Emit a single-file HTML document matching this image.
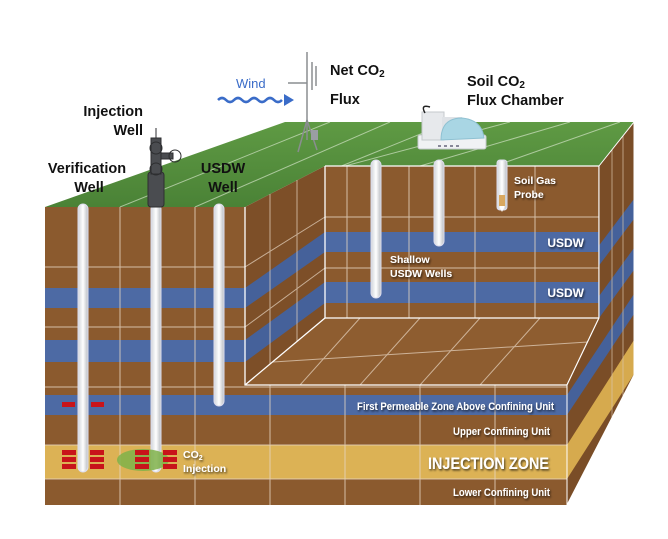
<!DOCTYPE html>
<html><head><meta charset="utf-8"><style>
html,body{margin:0;padding:0;background:#fff;}
svg{display:block;}
.lab{font-family:"Liberation Sans",sans-serif;font-weight:bold;fill:#111;}
.wl{font-family:"Liberation Sans",sans-serif;font-weight:bold;fill:#fff;}
</style></head><body>
<svg width="668" height="539" viewBox="0 0 668 539" xmlns="http://www.w3.org/2000/svg">
<defs>
<linearGradient id="grass" x1="0" y1="0" x2="0" y2="1">
<stop offset="0" stop-color="#5f9a44"/><stop offset="1" stop-color="#4a8236"/></linearGradient>
<filter id="sh" x="-10%" y="-30%" width="130%" height="180%"><feDropShadow dx="1" dy="1.5" stdDeviation="1" flood-color="#000" flood-opacity="0.7"/></filter>
<clipPath id="side"><polygon points="599,166 634,122 634,375 567,505 567,385 599,318"/></clipPath>
<linearGradient id="tube" x1="0" x2="1"><stop offset="0" stop-color="#cfd3d8"/><stop offset="0.5" stop-color="#fff"/><stop offset="1" stop-color="#b8bcc2"/></linearGradient>
</defs>

<polygon points="45,207 285,122 634,122 599,166 325,166 245,207" fill="url(#grass)"/>
<g stroke="#e6f0dc" stroke-width="1" opacity="0.6">
<line x1="120" y1="207" x2="330" y2="122"/><line x1="195" y1="207" x2="390" y2="122"/>
<line x1="270" y1="195" x2="450" y2="122"/><line x1="345" y1="166" x2="510" y2="122"/>
<line x1="420" y1="166" x2="570" y2="122"/><line x1="495" y1="166" x2="620" y2="122"/>
</g>

<rect x="45" y="207" width="522" height="298" fill="#8b5a2e"/>
<rect x="45" y="288" width="200" height="20" fill="#4d6aa4"/>
<rect x="45" y="340" width="200" height="22" fill="#4d6aa4"/>
<rect x="45" y="395" width="522" height="20" fill="#4d6aa4"/>
<rect x="45" y="445" width="522" height="34" fill="#dcb255"/>
<g stroke="#e8d7c4" stroke-width="1" opacity="0.8">
<line x1="120" y1="207" x2="120" y2="505"/><line x1="195" y1="207" x2="195" y2="505"/>
<line x1="270" y1="385" x2="270" y2="505"/><line x1="345" y1="385" x2="345" y2="505"/>
<line x1="420" y1="385" x2="420" y2="505"/><line x1="495" y1="385" x2="495" y2="505"/>
<line x1="45" y1="267" x2="245" y2="267"/><line x1="45" y1="327" x2="245" y2="327"/>
<line x1="45" y1="387" x2="567" y2="387"/><line x1="45" y1="445" x2="567" y2="445"/>
<line x1="45" y1="479" x2="567" y2="479"/>
</g>

<polygon points="245,207 325,166 325,318 245,385" fill="#7d4f28"/>
<polygon points="245,288 325,232 325,252 245,308" fill="#45619a"/>
<polygon points="245,340 325,282 325,303 245,362" fill="#45619a"/>
<g stroke="#e8d7c4" stroke-width="1" opacity="0.7" fill="none">
<line x1="245" y1="267" x2="325" y2="217"/><line x1="245" y1="327" x2="325" y2="268"/>
<line x1="270" y1="194" x2="270" y2="364"/><line x1="297" y1="180" x2="297" y2="341"/>
</g>
<rect x="325" y="166" width="274" height="152" fill="#8b5a2e"/>
<rect x="325" y="232" width="274" height="20" fill="#4d6aa4"/>
<rect x="325" y="282" width="274" height="21" fill="#4d6aa4"/>
<g stroke="#e8d7c4" stroke-width="1" opacity="0.8">
<line x1="347" y1="166" x2="347" y2="318"/><line x1="409" y1="166" x2="409" y2="318"/>
<line x1="475" y1="166" x2="475" y2="318"/><line x1="535" y1="166" x2="535" y2="318"/>
<line x1="325" y1="217" x2="599" y2="217"/><line x1="325" y1="268" x2="599" y2="268"/>
</g>
<polygon points="245,385 325,318 599,318 567,385" fill="#8e5d30"/>
<g stroke="#e8d7c4" stroke-width="1" opacity="0.7">
<line x1="300" y1="385" x2="360" y2="318"/><line x1="360" y1="385" x2="420" y2="318"/>
<line x1="420" y1="385" x2="480" y2="318"/><line x1="480" y1="385" x2="540" y2="318"/>
<line x1="273" y1="362" x2="588" y2="342"/>
</g>
<g stroke="#fff" stroke-width="1.3" fill="none">
<polyline points="245,207 245,385 567,385"/>
<polyline points="325,166 325,318 599,318 599,166 325,166"/>
<line x1="245" y1="385" x2="325" y2="318"/><line x1="567" y1="385" x2="599" y2="318"/>
</g>

<g clip-path="url(#side)">
<rect x="560" y="100" width="80" height="420" fill="#7a4d27"/>
<polygon points="567,288 634,199 634,219 567,308" fill="#45619a"/>
<polygon points="567,340 634,248 634,270 567,362" fill="#45619a"/>
<polygon points="567,395 634,294 634,314 567,415" fill="#45619a"/>
<polygon points="567,445 634,340 634,374 567,479" fill="#d6aa4e"/>
<g stroke="#d9c3a8" stroke-width="1" opacity="0.7">
<line x1="612" y1="100" x2="612" y2="520"/><line x1="623" y1="100" x2="623" y2="520"/>
</g>
</g>
<polygon points="599,166 634,122 634,375 567,505 567,385 599,318" fill="none" stroke="#fff" stroke-width="1"/>

<g fill="url(#tube)" stroke="#dde" stroke-width="1">
<rect x="78" y="204" width="10" height="268" rx="5"/>
<rect x="151" y="204" width="10" height="268" rx="5"/>
<rect x="214" y="204" width="10" height="202" rx="5"/>
<rect x="371" y="160" width="10" height="138" rx="5"/>
<rect x="434" y="160" width="10" height="86" rx="5"/>
<rect x="497" y="160" width="10" height="50" rx="3"/>
</g>
<rect x="499" y="195" width="6" height="12" fill="#d9a860"/>
<polygon points="499,206 505,206 502,212" fill="#fff"/>

<ellipse cx="143" cy="460" rx="26" ry="11" fill="#7fb24a" opacity="0.85"/>
<g fill="#c8141a">
<rect x="62" y="402" width="13" height="5"/><rect x="91" y="402" width="13" height="5"/>
<rect x="62" y="450" width="14" height="5"/><rect x="90" y="450" width="14" height="5"/>
<rect x="62" y="457" width="14" height="5"/><rect x="90" y="457" width="14" height="5"/>
<rect x="62" y="464" width="14" height="5"/><rect x="90" y="464" width="14" height="5"/>
<rect x="135" y="450" width="14" height="5"/><rect x="163" y="450" width="14" height="5"/>
<rect x="135" y="457" width="14" height="5"/><rect x="163" y="457" width="14" height="5"/>
<rect x="135" y="464" width="14" height="5"/><rect x="163" y="464" width="14" height="5"/>
</g>

<g fill="#4a4c50" stroke="#2d2e30" stroke-width="1">
<rect x="148" y="172" width="16" height="35" rx="3"/>
<rect x="151" y="138" width="10" height="36"/>
<rect x="161" y="153" width="12" height="6"/>
<circle cx="156" cy="148" r="6" fill="none"/><circle cx="156" cy="169" r="6" fill="none"/>
<circle cx="175" cy="156" r="6" fill="none"/>
<line x1="156" y1="128" x2="156" y2="138"/>
</g>

<g stroke="#8a8d90" stroke-width="1.5" fill="none">
<line x1="307" y1="52" x2="307" y2="140"/>
<line x1="307" y1="120" x2="298" y2="152"/><line x1="307" y1="120" x2="317" y2="150"/>
<line x1="288" y1="83" x2="307" y2="83"/>
<line x1="312" y1="62" x2="312" y2="90"/><line x1="316" y1="66" x2="316" y2="86"/>
</g>
<rect x="311" y="130" width="7" height="10" fill="#9a9ea2"/>

<rect x="418" y="135" width="68" height="14" rx="2" fill="#f0f2f4" stroke="#c5c9cd"/>
<rect x="422" y="112" width="22" height="28" fill="#e7e9ec" stroke="#c5c9cd"/>
<rect x="442" y="117" width="20" height="12" fill="#dfe2e6"/>
<path d="M441,140 Q441,118 462,118 Q482,120 484,138 Z" fill="#a9d6e4" stroke="#8fc1d2"/>
<path d="M425,113 Q420,104 430,107" stroke="#222" stroke-width="1.5" fill="none"/>
<g fill="#889"><rect x="438" y="145" width="3" height="2"/><rect x="444" y="145" width="3" height="2"/><rect x="450" y="145" width="3" height="2"/><rect x="456" y="145" width="3" height="2"/></g>

<path d="M218,100 q4,-4 8,0 t8,0 t8,0 t8,0 t8,0 t8,0 t8,0 t8,0" stroke="#3a6cc8" stroke-width="2.5" fill="none"/>
<polygon points="284,94 294,100 284,106" fill="#3a6cc8"/>
<text x="236" y="88" font-family="Liberation Sans,sans-serif" font-size="13" fill="#3a6cc8">Wind</text>

<g class="lab" font-size="14.5">
<text x="143" y="116" text-anchor="end">Injection</text>
<text x="143" y="135" text-anchor="end">Well</text>
<text x="87" y="173" text-anchor="middle">Verification</text>
<text x="89" y="192" text-anchor="middle">Well</text>
<text x="223" y="173" text-anchor="middle">USDW</text>
<text x="223" y="192" text-anchor="middle">Well</text>
<text x="330" y="75">Net CO<tspan font-size="10" dy="2">2</tspan></text>
<text x="330" y="104">Flux</text>
<text x="467" y="86">Soil CO<tspan font-size="10" dy="2">2</tspan></text>
<text x="467" y="105">Flux Chamber</text>
</g>

<g class="wl" filter="url(#sh)">
<text x="514" y="184" font-size="10.5">Soil Gas</text>
<text x="514" y="198" font-size="10.5">Probe</text>
<text x="390" y="263" font-size="10.5">Shallow</text>
<text x="390" y="277" font-size="10.5">USDW Wells</text>
<text x="584" y="247" font-size="12" text-anchor="end">USDW</text>
<text x="584" y="297" font-size="12" text-anchor="end">USDW</text>
<text x="357" y="410" font-size="11" textLength="197" lengthAdjust="spacingAndGlyphs">First Permeable Zone Above Confining Unit</text>
<text x="453" y="435" font-size="11" textLength="97" lengthAdjust="spacingAndGlyphs">Upper Confining Unit</text>
<text x="428" y="469" font-size="17" textLength="121" lengthAdjust="spacingAndGlyphs">INJECTION ZONE</text>
<text x="453" y="496" font-size="11" textLength="97" lengthAdjust="spacingAndGlyphs">Lower Confining Unit</text>
<text x="183" y="458" font-size="10.5">CO<tspan font-size="7" dy="2">2</tspan></text>
<text x="183" y="472" font-size="10.5">Injection</text>
</g>
</svg>
</body></html>
